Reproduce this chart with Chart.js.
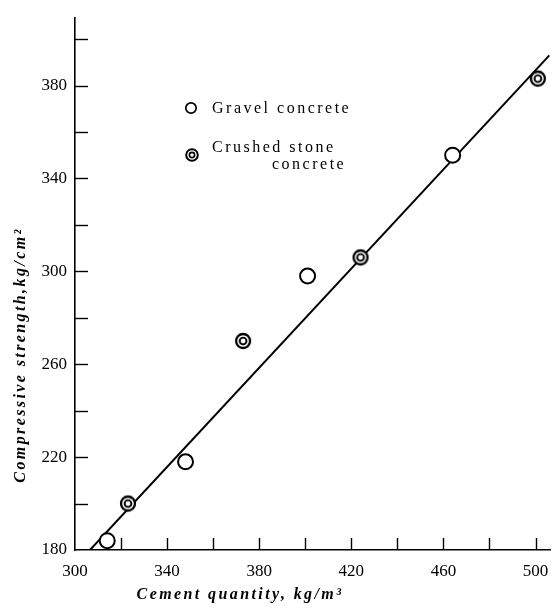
<!DOCTYPE html>
<html>
<head>
<meta charset="utf-8">
<script src="https://cdn.jsdelivr.net/npm/chart.js@4"></script>
<style>
  html, body { margin: 0; padding: 0; background: #fff; }
</style>
</head>
<body>
<canvas id="myChart" width="560" height="615"></canvas>
<script>
// values
const gravelX = [314, 348, 401, 464];
const gravelY = [184, 218, 298, 350];
const crushedX = [323, 373, 424, 501];
const crushedY = [200, 270, 306, 383];
// straight line drawn through the points
const fitX = [306.5, 506];
const fitY = [180, 393];

const seriesNames = ['Gravel concrete', 'Crushed stone concrete'];
const legendLines = [['Gravel concrete'], ['Crushed stone', 'concrete']];
const xTitle = 'Cement quantity, kg/m\u00b3';
const yTitle = 'Compressive strength,kg/cm\u00b2';

const SERIF = '"Liberation Serif", "DejaVu Serif", serif';
const INK = '#000';

const toPoints = (xs, ys) => xs.map((x, i) => ({x: x, y: ys[i]}));

// double ring marker for crushed stone
function ringMarker(rOut, rIn, wOut, wIn) {
    const c = document.createElement('canvas');
    const s = 2 * Math.ceil(rOut + wOut);
    c.width = s; c.height = s;
    const g = c.getContext('2d');
    g.fillStyle = '#fff';
    g.beginPath(); g.arc(s / 2, s / 2, rOut, 0, Math.PI * 2); g.fill();
    g.strokeStyle = INK;
    g.lineWidth = wOut;
    g.beginPath(); g.arc(s / 2, s / 2, rOut, 0, Math.PI * 2); g.stroke();
    g.lineWidth = wIn;
    g.beginPath(); g.arc(s / 2, s / 2, rIn, 0, Math.PI * 2); g.stroke();
    return c;
}

const bigRing = ringMarker(7, 3.4, 2.3, 1.9);

const data = {
    datasets: [{
        label: seriesNames[0],
        type: 'scatter',
        data: toPoints(gravelX, gravelY),
        pointStyle: 'circle',
        pointRadius: 7.5,
        borderWidth: 2,
        borderColor: INK,
        backgroundColor: '#fff',
    }, {
        label: seriesNames[1],
        type: 'scatter',
        data: toPoints(crushedX, crushedY),
        pointStyle: bigRing,
        pointRadius: 8,
    }, {
        label: 'fit',
        type: 'line',
        data: toPoints(fitX, fitY),
        borderColor: INK,
        borderWidth: 2,
        pointRadius: 0,
        fill: false,
    }]
};

// inward tick marks, titles and the inset key
const extras = {
    id: 'extras',
    afterDraw(chart) {
        const ctx = chart.ctx;
        const xs = chart.scales.x, ys = chart.scales.y;
        const area = chart.chartArea;
        ctx.save();
        ctx.strokeStyle = INK;
        ctx.lineWidth = 1.4;
        xs.ticks.forEach(t => {
            if (t.value === xs.min) return;
            const px = Math.round(xs.getPixelForValue(t.value)) + 0.5;
            ctx.beginPath(); ctx.moveTo(px, area.bottom); ctx.lineTo(px, area.bottom - 12); ctx.stroke();
        });
        ys.ticks.forEach(t => {
            if (t.value === ys.min) return;
            const py = Math.round(ys.getPixelForValue(t.value)) + 0.5;
            ctx.beginPath(); ctx.moveTo(area.left, py); ctx.lineTo(area.left + 13, py); ctx.stroke();
        });

        ctx.fillStyle = INK;
        ctx.textBaseline = 'middle';
        ctx.textAlign = 'center';
        ctx.font = 'italic bold 16px ' + SERIF;
        ctx.letterSpacing = '2.4px';
        ctx.fillText(xTitle, 240, 595);

        ctx.save();
        ctx.translate(21, 355);
        ctx.rotate(-Math.PI / 2);
        ctx.fillText(yTitle, 0, 0);
        ctx.restore();

        // key
        ctx.font = '16px ' + SERIF;
        ctx.letterSpacing = '2.5px';
        ctx.textAlign = 'left';
        ctx.fillText(legendLines[0][0], 212, 109);
        ctx.fillText(legendLines[1][0], 212, 148);
        ctx.fillText(legendLines[1][1], 272, 165);

        ctx.lineWidth = 1.7;
        ctx.beginPath(); ctx.arc(191, 108, 5.2, 0, Math.PI * 2); ctx.stroke();
        ctx.lineWidth = 2;
        ctx.beginPath(); ctx.arc(192, 155, 5.8, 0, Math.PI * 2); ctx.stroke();
        ctx.lineWidth = 1.6;
        ctx.beginPath(); ctx.arc(192, 155, 2.6, 0, Math.PI * 2); ctx.stroke();
        ctx.restore();
    }
};

const tickFont = {family: SERIF, size: 17};

const config = {
    type: 'scatter',
    data: data,
    options: {
        responsive: false,
        animation: false,
        layout: {padding: {top: 12, right: 5, left: 0, bottom: 0}},
        plugins: {legend: {display: false}, tooltip: {enabled: false}},
        scales: {
            x: {
                type: 'linear',
                min: 300,
                max: 506.5,
                afterFit: s => { s.height = 65; },
                border: {display: true, color: INK, width: 1.6},
                grid: {drawOnChartArea: false, drawTicks: false},
                ticks: {
                    stepSize: 20,
                    includeBounds: false,
                    autoSkip: false,
                    maxRotation: 0,
                    padding: 11,
                    color: INK,
                    font: tickFont,
                    callback: v => ((v - 300) % 40 === 0 ? String(v) : ''),
                },
            },
            y: {
                type: 'linear',
                min: 180,
                max: 409,
                afterFit: s => { s.width = 75; },
                border: {display: true, color: INK, width: 1.6},
                grid: {drawOnChartArea: false, drawTicks: false},
                ticks: {
                    stepSize: 20,
                    includeBounds: false,
                    autoSkip: false,
                    padding: 8,
                    color: INK,
                    font: tickFont,
                    callback: v => ((v - 180) % 40 === 0 ? String(v) : ''),
                },
            },
        },
    },
    plugins: [extras],
};

const myChart = new Chart(document.getElementById('myChart'), config);
</script>
</body>
</html>
